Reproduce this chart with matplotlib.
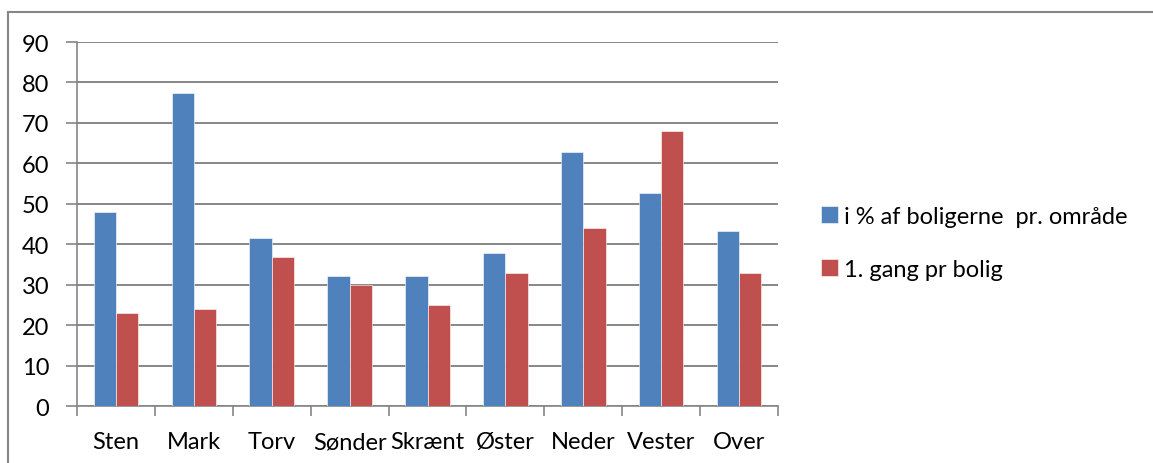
import matplotlib
matplotlib.use('Agg')
import matplotlib.pyplot as plt
import numpy as np
from matplotlib.lines import Line2D

plt.rcParams['font.family'] = ['Lato', 'DejaVu Sans']

# ── Data ────────────────────────────────────────────────────────────────
OMRAADER = ['Sten', 'Mark', 'Torv', 'Sønder', 'Skrænt', 'Øster',
            'Neder', 'Vester', 'Over']
PCT_BOLIGER = [47.9, 77.4, 41.5, 32.2, 32.3, 37.9, 62.8, 52.7, 43.4]
FOERSTE_GANG = [23, 24, 37, 30, 25, 33, 44, 68, 33]
LABELS = ['i % af boligerne  pr. område', '1. gang pr bolig']

BLAA = '#4f81bd'
ROED = '#c0504d'
GRAA = '#868686'
FS = 17

fig = plt.figure(figsize=(11.53, 4.64), dpi=100)
ax = fig.add_axes([0.0668, 0.1222, 0.608, 0.7851])

x = np.arange(len(OMRAADER))
w = 0.2857
ax.bar(x - w / 2, PCT_BOLIGER, width=w, color=BLAA, label=LABELS[0],
       edgecolor='white', linewidth=0.4, zorder=3)
ax.bar(x + w / 2, FOERSTE_GANG, width=w, color=ROED, label=LABELS[1],
       edgecolor='white', linewidth=0.4, zorder=3)

ax.set_xlim(-0.5, len(OMRAADER) - 0.5)
ax.set_ylim(0, 90)
ax.set_yticks(range(0, 91, 10))
ax.grid(axis='y', color=GRAA, linewidth=1.4, zorder=0)

for s in ['top', 'right']:
    ax.spines[s].set_visible(False)
for s in ['left', 'bottom']:
    ax.spines[s].set_color(GRAA)
    ax.spines[s].set_linewidth(1.2)

# kategori-labels i midten, tick-streger ved grænserne
ax.set_xticks(np.arange(-0.5, len(OMRAADER), 1.0))
ax.set_xticklabels([])
ax.set_xticks(x, minor=True)
ax.set_xticklabels(OMRAADER, minor=True, fontsize=FS)
ax.tick_params(axis='x', which='major', length=7, color=GRAA, width=1.2)
ax.tick_params(axis='x', which='minor', length=0, pad=18)
ax.tick_params(axis='y', length=8, color=GRAA, width=1.2, labelsize=FS, pad=12)

leg = fig.legend(loc='upper left', bbox_to_anchor=(0.694, 0.6),
                 frameon=False, fontsize=FS, handlelength=0.7,
                 handleheight=0.7, handletextpad=0.25, labelspacing=1.35)

# ramme om diagrammet (top og venstre)
fig.add_artist(Line2D([8 / 1153, 1], [1 - 13 / 464, 1 - 13 / 464],
                      color=GRAA, linewidth=1.5, transform=fig.transFigure))
fig.add_artist(Line2D([8 / 1153, 8 / 1153], [0, 1 - 13 / 464],
                      color=GRAA, linewidth=1.5, transform=fig.transFigure))

fig.savefig('out.png', dpi=100)
